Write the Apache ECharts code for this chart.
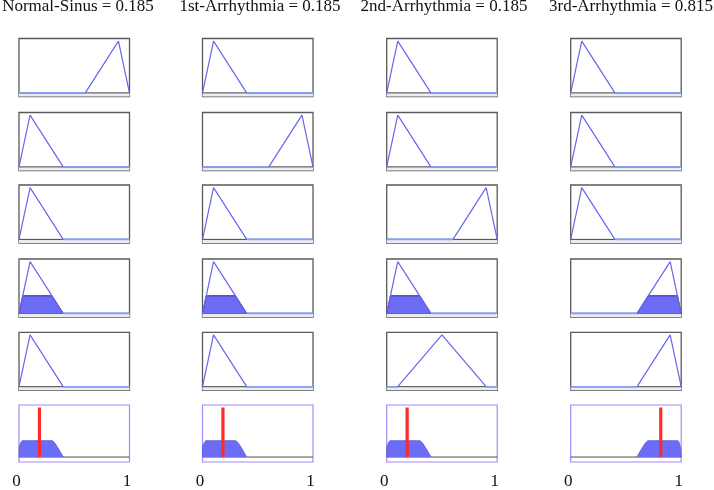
<!DOCTYPE html>
<html>
<head>
<meta charset="utf-8">
<script src="https://cdn.jsdelivr.net/npm/echarts@6/dist/echarts.min.js"></script>
<style>
html,body{margin:0;padding:0;background:#fff;}
#chart{width:714px;height:490px;}
</style>
</head>
<body>
<div id="chart"></div>
<script>
// ---- data ----
const outputNames = ['Normal-Sinus', '1st-Arrhythmia', '2nd-Arrhythmia', '3rd-Arrhythmia'];
const outputValues = [0.185, 0.185, 0.185, 0.815];
const tickLabels = ['0', '1'];
const mfLow = [[0, 0], [0.1, 1], [0.4, 0], [1, 0]];
const mfMid = [[0, 0], [0.1, 0], [0.5, 1], [0.9, 0], [1, 0]];
const mfHigh = [[0, 0], [0.6, 0], [0.9, 1], [1, 0]];
// consequent membership function of each rule (rows) for each output (columns)
const ruleMF = [
  ['high', 'low', 'low', 'low'],
  ['low', 'high', 'low', 'low'],
  ['low', 'low', 'high', 'low'],
  ['low', 'low', 'low', 'high'],
  ['low', 'low', 'mid', 'high']
];
const firedRow = 3;
const firedLow = [[0, 0], [0.034, 0.34], [0.298, 0.34], [0.4, 0]];
const firedHigh = [[0.6, 0], [0.702, 0.34], [0.966, 0.34], [1, 0]];
const aggLow = [[0, 0], [0.004, 0.22], [0.03, 0.33], [0.3, 0.33], [0.4, 0]];
const aggHigh = [[0.6, 0], [0.7, 0.33], [0.97, 0.33], [0.995, 0.18], [1, 0]];
const aggShape = ['low', 'low', 'low', 'high'];

// ---- layout ----
const colLeft = [19, 202.5, 386.7, 570.7];
const colW = 110.5;
const rowTop = [38.5, 112.5, 185, 259, 332.3, 405];
const rowH = 58;
const titleCenters = [78, 260, 444, 631];

const mfMap = {low: mfLow, mid: mfMid, high: mfHigh};
const firedMap = {low: firedLow, high: firedHigh};
const aggMap = {low: aggLow, high: aggHigh};

const grids = [], xAxes = [], yAxes = [], series = [], titles = [];

outputNames.forEach((n, c) => {
  titles.push({
    text: n + ' = ' + outputValues[c].toFixed(3),
    left: titleCenters[c], top: -2, textAlign: 'center', padding: 0,
    textStyle: {fontFamily: 'Liberation Serif', fontSize: 17, fontWeight: 'normal', color: '#111'}
  });
});

function zeroSegments(pts) {
  const segs = [];
  for (let i = 0; i < pts.length - 1; i++) {
    if (pts[i][1] === 0 && pts[i + 1][1] === 0) segs.push([pts[i], pts[i + 1]]);
  }
  return segs;
}

for (let r = 0; r < 6; r++) {
  for (let c = 0; c < 4; c++) {
    const gi = grids.length;
    const isAgg = r === 5;
    grids.push({
      left: colLeft[c], top: rowTop[r], width: colW, height: rowH,
      show: true, backgroundColor: '#fff',
      borderColor: isAgg ? '#a08cf8' : '#5a5a5a', borderWidth: isAgg ? 1.2 : 1.3
    });
    xAxes.push({
      gridIndex: gi, type: 'value', min: 0, max: 1, interval: 1,
      show: isAgg, position: 'bottom',
      axisLine: {show: false, onZero: false}, axisTick: {show: false}, splitLine: {show: false},
      axisLabel: {
        show: isAgg, margin: 11, padding: [0, 5, 0, 0],
        fontFamily: 'Liberation Serif', fontSize: 17, color: '#111',
        formatter: v => tickLabels[Math.round(v)]
      }
    });
    yAxes.push({
      gridIndex: gi, type: 'value', min: isAgg ? -0.1 : -0.07, max: 1.05, show: false,
      splitLine: {show: false}
    });
    const base = {xAxisIndex: gi, yAxisIndex: gi, type: 'line', symbol: 'none', silent: true, animation: false};
    // dark baseline at zero (+ strip below)
    series.push(Object.assign({}, base, {
      data: [[0, 0], [1, 0]],
      lineStyle: {color: isAgg ? '#5a4a40' : '#444', width: 1},
      markArea: isAgg ? undefined : {
        silent: true, itemStyle: {color: '#ececf0'},
        data: [[{yAxis: -0.07}, {yAxis: 0}]]
      },
      z: 2
    }));
    if (!isAgg) {
      const key = ruleMF[r][c];
      if (r === firedRow) {
        series.push(Object.assign({}, base, {
          data: firedMap[key],
          lineStyle: {color: '#2c2c90', width: 1},
          areaStyle: {color: '#6c6cf6', opacity: 1},
          z: 3
        }));
      }
      series.push(Object.assign({}, base, {
        data: mfMap[key],
        lineStyle: {color: '#6666ee', width: 1.2},
        z: 4
      }));
      zeroSegments(mfMap[key]).forEach(seg => {
        series.push(Object.assign({}, base, {
          data: seg,
          lineStyle: {color: '#84a4f2', width: 1.6},
          z: 5
        }));
      });
    } else {
      series.push(Object.assign({}, base, {
        data: aggMap[aggShape[c]],
        smooth: 0.15,
        lineStyle: {color: '#5555d8', width: 0.8},
        areaStyle: {color: '#6c6cf6', opacity: 1},
        z: 3
      }));
      series.push(Object.assign({}, base, {
        data: [[outputValues[c], 0], [outputValues[c], 1]],
        lineStyle: {color: '#ff2a2a', width: 3.2},
        z: 6
      }));
    }
  }
}

const chart = echarts.init(document.getElementById('chart'), null, {renderer: 'canvas'});
chart.setOption({
  backgroundColor: '#fff',
  animation: false,
  title: titles,
  grid: grids,
  xAxis: xAxes,
  yAxis: yAxes,
  series: series
});
</script>
</body>
</html>
